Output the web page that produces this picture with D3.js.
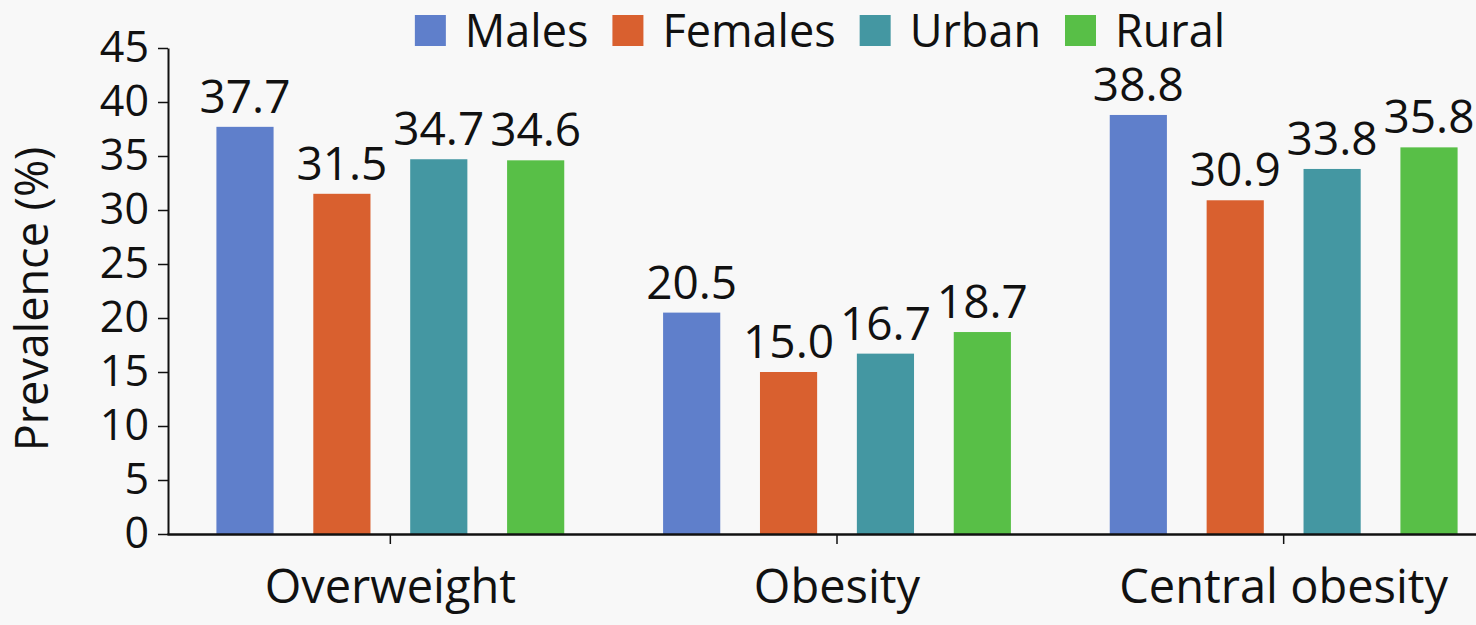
<!DOCTYPE html>
<html>
<head>
<meta charset="utf-8">
<script src="https://cdn.jsdelivr.net/npm/d3@7"></script>
<style>
  html, body { margin: 0; padding: 0; background: #f8f8f8; }
  svg { display: block; font-family: "Open Sans", "Noto Sans", sans-serif; }
</style>
</head>
<body>
<div id="chart"></div>
<script>
// Chart data
var categories = ["Overweight", "Obesity", "Central obesity"];
var series = ["Males", "Females", "Urban", "Rural"];
var males = [37.7, 20.5, 38.8];
var females = [31.5, 15.0, 30.9];
var urban = [34.7, 16.7, 33.8];
var rural = [34.6, 18.7, 35.8];
var yTicks = [0, 5, 10, 15, 20, 25, 30, 35, 40, 45];
var colors = ["#5f7fcb", "#d9602f", "#4497a2", "#58bf47"];

var w = 1476;
var h = 625;

function main() {
  var values = [males, females, urban, rural];
  var rows = [];
  categories.forEach(function(c, i) {
    series.forEach(function(s, j) {
      rows.push({ cat: c, series: s, value: values[j][i], color: colors[j] });
    });
  });

  var svg = d3.select("#chart")
    .append("svg")
    .attr("width", w)
    .attr("height", h);

  svg.append("rect")
    .attr("width", w)
    .attr("height", h)
    .attr("fill", "#f8f8f8");

  // Scales
  var x0 = d3.scaleBand()
    .domain(categories)
    .range([167, 1507]);

  var x1 = d3.scaleBand()
    .domain(series)
    .range([0, x0.bandwidth()])
    .paddingInner(0.41)
    .paddingOuter(0.51);

  var y = d3.scaleLinear()
    .domain([0, 45])
    .range([534, 48]);

  // Bars
  svg.selectAll(".bar")
    .data(rows)
    .enter()
    .append("rect")
    .attr("class", "bar")
    .attr("x", d => x0(d.cat) + x1(d.series))
    .attr("y", d => y(d.value))
    .attr("width", x1.bandwidth())
    .attr("height", d => y(0) - y(d.value))
    .attr("fill", d => d.color);

  // Value labels
  var fmt = d3.format(".1f");
  svg.selectAll(".label")
    .data(rows)
    .enter()
    .append("text")
    .attr("class", "label")
    .attr("x", d => x0(d.cat) + x1(d.series) + x1.bandwidth() / 2)
    .attr("y", d => y(d.value) - 14)
    .attr("text-anchor", "middle")
    .attr("font-size", "46px")
    .attr("fill", "#111")
    .text(d => fmt(d.value));

  // Axes
  var yAxis = d3.axisLeft(y)
    .tickValues(yTicks)
    .tickSize(10)
    .tickSizeOuter(0)
    .tickPadding(9);

  var gy = svg.append("g")
    .attr("transform", "translate(168,0)")
    .call(yAxis);
  gy.select(".domain").attr("stroke", "#111").attr("stroke-width", 2);
  gy.selectAll(".tick line").attr("stroke", "#111").attr("stroke-width", 1.5);
  gy.selectAll("text")
    .style("font-size", "43px")
    .style("font-family", "\"Open Sans\", sans-serif")
    .attr("fill", "#111");

  var xAxis = d3.axisBottom(x0)
    .tickSize(10)
    .tickSizeOuter(0)
    .tickPadding(26);

  var gx = svg.append("g")
    .attr("transform", "translate(0,534)")
    .call(xAxis);
  gx.select(".domain").attr("stroke", "#111").attr("stroke-width", 2.5);
  gx.selectAll(".tick line").attr("stroke", "#111").attr("stroke-width", 1.5);
  gx.selectAll("text")
    .style("font-size", "47px")
    .style("font-family", "\"Open Sans\", sans-serif")
    .attr("fill", "#111");

  // Y title
  svg.append("text")
    .attr("transform", "translate(48," + ((y(0) + y(45)) / 2 + 8) + ") rotate(-90)")
    .attr("text-anchor", "middle")
    .attr("font-size", "45px")
    .attr("fill", "#111")
    .text("Prevalence (%)");

  // Legend
  var legend = svg.append("g").attr("class", "legend");
  var cursor = 0;
  series.forEach(function(s, i) {
    var item = legend.append("g").attr("transform", "translate(" + cursor + ",0)");
    item.append("rect")
      .attr("x", 0)
      .attr("y", 15)
      .attr("width", 31)
      .attr("height", 31)
      .attr("fill", colors[i]);
    var t = item.append("text")
      .attr("x", 50)
      .attr("y", 47)
      .attr("font-size", "45px")
      .attr("fill", "#111")
      .text(s);
    cursor += 50 + t.node().getComputedTextLength() + 24;
  });
  var legendWidth = cursor - 24;
  legend.attr("transform", "translate(" + (820 - legendWidth / 2) + ",0)");
}

window.onload = function() {
  main();
};
</script>
</body>
</html>
